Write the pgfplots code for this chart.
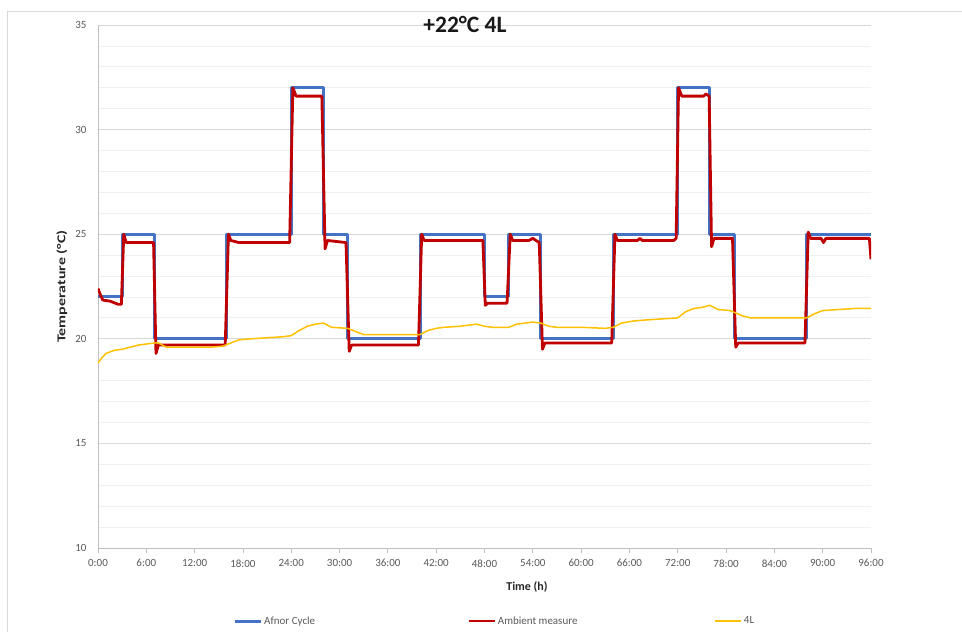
\documentclass[border=0pt]{standalone}
\usepackage{pgfplots}
\pgfplotsset{compat=1.18}
\usepackage{fontspec}
\setmainfont{Carlito}
\definecolor{afnor}{HTML}{4472C4}
\definecolor{amb}{HTML}{C00000}
\definecolor{fourl}{HTML}{FFC000}
\definecolor{ticktxt}{HTML}{595959}
\definecolor{gridmaj}{HTML}{D9D9D9}
\definecolor{gridmin}{HTML}{F0F0F0}
\definecolor{axisline}{HTML}{BFBFBF}

\begin{document}
\begin{tikzpicture}
\path[use as bounding box] (-98pt,-84pt) rectangle (864pt,548pt);
\draw[gridmaj, line width=0.8pt] (-91pt,-84pt) -- (-91pt,537pt) -- (864pt,537pt);
\begin{axis}[
 at={(0pt,0pt)}, anchor=south west,
 scale only axis, width=773pt, height=523pt,
 xmin=0, xmax=96, ymin=10, ymax=35,
 axis x line*=bottom, axis y line*=left,
 axis line style={axisline, line width=0.8pt, -},
 xtick={0,6,...,96},
 xticklabels={0:00,6:00,12:00,18:00,24:00,30:00,36:00,42:00,48:00,54:00,60:00,66:00,72:00,78:00,84:00,90:00,96:00},
 ytick={10,15,...,35},
 minor y tick num=4,
 ymajorgrids, yminorgrids,
 major grid style={gridmaj, line width=0.8pt},
 minor grid style={gridmin, line width=0.8pt},
 tick align=outside,
 xtick style={axisline, line width=0.8pt},
 ytick style={draw=none},
 major tick length=5pt,
 minor tick length=0pt,
 /pgf/number format/assume math mode=true,
 yticklabel style={font=\fontsize{11}{13}\selectfont, text=ticktxt, xshift=-3pt},
 xticklabel style={font=\fontsize{11}{13}\selectfont, text=ticktxt, yshift=-3pt},
 xlabel={Time (h)},
 xlabel style={at={(axis description cs:0.555,-0.0746)}, anchor=center, font=\bfseries\fontsize{12}{14}\selectfont, text=black!85},
 ylabel={\scalebox{1.33}[1]{Temperature (°C)}},
 ylabel style={at={(axis description cs:-0.0466,0.5)}, anchor=center, font=\bfseries\fontsize{12}{14}\selectfont, text=black!85},
 title={+22°C 4L},
 title style={at={(axis description cs:0.4748,0.990)}, anchor=center, font=\bfseries\fontsize{23.5}{27}\selectfont, text=black!90},
 legend style={at={(axis description cs:0.1746,-0.1396)}, anchor=west, draw=none, fill=none, inner sep=0pt,
   font=\fontsize{11}{13}\selectfont, text=ticktxt, legend columns=3,
   /tikz/column 2/.style={column sep=150pt}, /tikz/column 4/.style={column sep=135pt}},
 legend image code/.code={\draw[#1] (0pt,0pt) -- (26pt,0pt);},
]
\addplot[afnor, line width=3pt, line join=round] coordinates {
(0,22)(3,22)(3,25)(7,25)(7,20)(16,20)(16,25)(24,25)(24,32)(28,32)(28,25)(31,25)(31,20)(40,20)(40,25)(48,25)(48,22)(51,22)(51,25)(55,25)(55,20)(64,20)(64,25)(72,25)(72,32)(76,32)(76,25)(79,25)(79,20)(88,20)(88,25)(96,25)};
\addlegendentry{Afnor Cycle}
\addplot[amb, line width=2.8pt, line join=round] coordinates {
(0,22.4)(0.3,22.1)(0.6,21.85)(1.5,21.8)(2.5,21.65)(2.9,21.65)(3.2,25.0)(3.5,24.6)(6.9,24.6)(7.2,19.3)(7.5,19.7)(15.8,19.7)(16.2,25.0)(16.5,24.7)(17.5,24.6)(23.8,24.6)(24.2,32.0)(24.6,31.6)(27.8,31.6)(28.2,24.3)(28.5,24.7)(30.8,24.6)(31.2,19.4)(31.5,19.7)(39.8,19.7)(40.2,25.0)(40.5,24.7)(47.8,24.7)(48.1,21.6)(48.4,21.7)(50.8,21.7)(51.2,25.0)(51.5,24.7)(53.5,24.7)(54,24.8)(54.8,24.6)(55.2,19.5)(55.5,19.8)(63.8,19.8)(64.2,25.0)(64.5,24.7)(67,24.7)(67.3,24.8)(67.6,24.7)(71.5,24.7)(71.8,24.8)(72.1,32.0)(72.5,31.6)(75.2,31.6)(75.5,31.7)(75.9,31.6)(76.2,24.4)(76.5,24.8)(78.8,24.8)(79.2,19.6)(79.5,19.8)(87.8,19.8)(88.2,25.1)(88.5,24.8)(89.8,24.8)(90.1,24.6)(90.4,24.8)(95.8,24.8)(96,23.8)};
\addlegendentry{Ambient measure}
\addplot[fourl, line width=1.5pt, line join=round] coordinates {
(0,18.85)(0.5,19.1)(1,19.3)(2,19.45)(3,19.5)(4,19.6)(5,19.7)(6,19.75)(7,19.8)(7.5,19.8)(8.5,19.6)(10,19.6)(12,19.6)(14,19.6)(15.5,19.65)(16.5,19.8)(17.5,19.95)(19,20.0)(21,20.05)(23,20.1)(24,20.15)(25,20.4)(26,20.6)(27,20.7)(28,20.75)(29,20.55)(31,20.5)(32,20.35)(33,20.2)(36,20.2)(40,20.2)(41,20.4)(42,20.5)(43,20.55)(45,20.6)(46,20.65)(47,20.7)(48,20.6)(49,20.55)(51,20.55)(52,20.7)(54,20.8)(55,20.75)(56,20.6)(57,20.55)(60,20.55)(63,20.5)(64,20.55)(65,20.75)(66.5,20.85)(68,20.9)(70,20.95)(72,21.0)(73,21.3)(74,21.45)(75,21.5)(76,21.6)(77,21.4)(78.5,21.35)(80,21.1)(81,21.0)(84,21.0)(88,21.0)(89,21.2)(90,21.35)(92,21.4)(94,21.45)(96,21.45)};
\addlegendentry{4L}
\end{axis}
\end{tikzpicture}
\end{document}
